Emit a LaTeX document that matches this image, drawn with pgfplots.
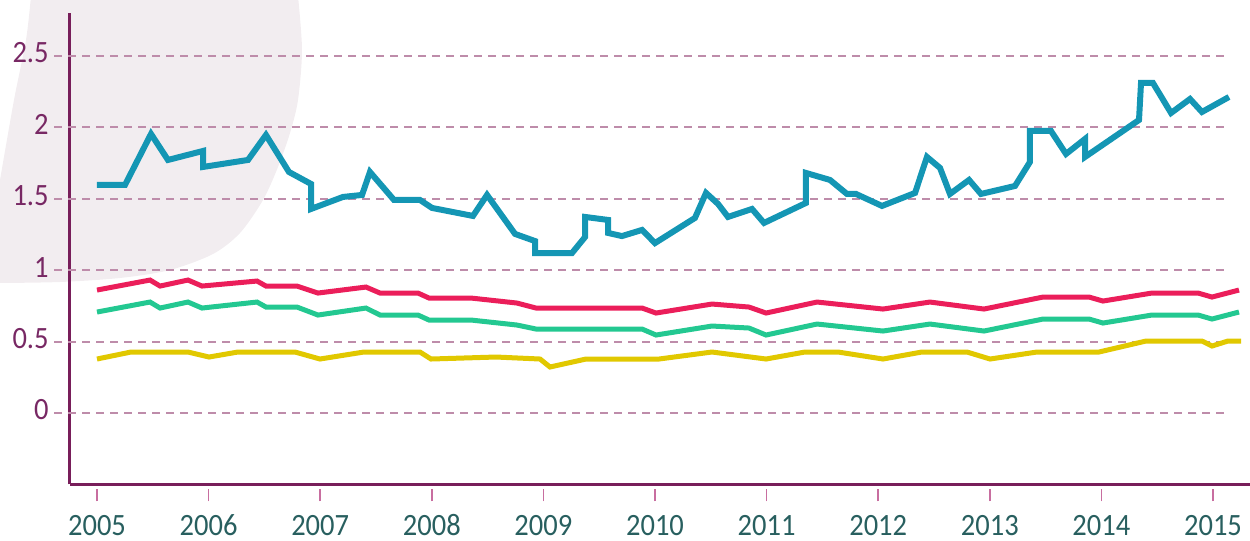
\documentclass[border=0pt]{standalone}
\usepackage{fontspec}
\setmainfont[FakeStretch=0.92]{Carlito}
\usepackage{pgfplots}
\pgfplotsset{compat=1.18}
\definecolor{blueL}{HTML}{1496B4}
\definecolor{redL}{HTML}{EB1E5A}
\definecolor{greenL}{HTML}{23C891}
\definecolor{yellowL}{HTML}{E1C800}
\definecolor{gridc}{HTML}{BE8CAA}
\definecolor{axisc}{HTML}{781E5A}
\definecolor{ylab}{HTML}{782864}
\definecolor{xlab}{HTML}{285F5F}
\definecolor{tickc}{HTML}{C86EA0}
\definecolor{wm}{HTML}{F2EDF0}
\begin{document}
\begin{tikzpicture}
% decorative watermark (pixel coordinates of the reference)
\begin{scope}[xshift=-35pt, yshift=242.2pt, x=0.5pt, y=-0.5pt]
\fill[wm] plot[smooth] coordinates {(298,-4) (302,50) (298,100) (290,133) (278,167) (263,200) (240,233) (213,254) (170,270) (120,278) (60,282) (0,283)}
  -- plot[smooth] coordinates {(0,180) (14,100) (26,40) (31,-4)} -- cycle;
\end{scope}
\begin{axis}[
  at={(0,0)}, anchor=south west,
  scale only axis,
  width=590pt, height=235.62pt,
  xmin=2004.7581, xmax=2015.3315,
  ymin=-0.5, ymax=2.8,
  clip=false,
  axis x line=bottom, axis y line=left,
  axis line style={draw=axisc, line width=1.5pt, -},
  xtick={2005,2006,2007,2008,2009,2010,2011,2012,2013,2014,2015},
  xticklabels={2005,2006,2007,2008,2009,2010,2011,2012,2013,2014,2015},
  ytick={0,0.5,1,1.5,2,2.5},
  yticklabels={0,0.5,1,1.5,2,2.5},
  tick align=outside,
  major tick length=6pt,
  xtick style={draw=tickc, line width=0.8pt, yshift=-2.5pt},
  ytick style={draw=none},
  xticklabel style={text=xlab, font=\fontsize{15.5pt}{16pt}\selectfont, anchor=base, inner sep=0pt, yshift=-19.5pt},
  yticklabel style={text=ylab, font=\fontsize{15.5pt}{16pt}\selectfont, anchor=east, inner sep=0pt, xshift=-4.5pt, yshift=1.5pt},
  every axis plot/.append style={line join=miter, miter limit=4, no markers},
]
% dashed grid lines
\draw[gridc, line width=1pt, dash pattern=on 4pt off 3pt] (axis cs:2004.615,0) -- (axis cs:2015.125,0);
\draw[gridc, line width=1pt, dash pattern=on 4pt off 3pt] (axis cs:2004.615,0.5) -- (axis cs:2015.125,0.5);
\draw[gridc, line width=1pt, dash pattern=on 4pt off 3pt] (axis cs:2004.615,1) -- (axis cs:2015.125,1);
\draw[gridc, line width=1pt, dash pattern=on 4pt off 3pt] (axis cs:2004.615,1.5) -- (axis cs:2015.125,1.5);
\draw[gridc, line width=1pt, dash pattern=on 4pt off 3pt] (axis cs:2004.615,2) -- (axis cs:2015.125,2);
\draw[gridc, line width=1pt, dash pattern=on 4pt off 3pt] (axis cs:2004.615,2.5) -- (axis cs:2015.125,2.5);

% yellow
\addplot[yellowL, line width=2.5pt] coordinates {
(2005.000,0.378) (2005.305,0.427) (2005.815,0.427) (2006.004,0.392) (2006.263,0.427)
(2006.774,0.427) (2006.998,0.378) (2007.392,0.427) (2007.894,0.427) (2007.993,0.378)
(2008.575,0.392) (2008.970,0.378) (2009.059,0.322) (2009.382,0.378) (2010.036,0.378)
(2010.511,0.427) (2010.995,0.378) (2011.344,0.427) (2011.640,0.427) (2012.043,0.378)
(2012.392,0.427) (2012.796,0.427) (2013.002,0.378) (2013.423,0.427) (2013.978,0.427)
(2014.400,0.504) (2014.901,0.504) (2014.991,0.469) (2015.134,0.504) (2015.251,0.504)
};
% green
\addplot[greenL, line width=2.5pt] coordinates {
(2005.000,0.707) (2005.475,0.777) (2005.565,0.735) (2005.815,0.777) (2005.941,0.735)
(2006.434,0.777) (2006.514,0.742) (2006.792,0.742) (2006.980,0.686) (2007.410,0.735)
(2007.536,0.686) (2007.876,0.686) (2007.975,0.651) (2008.351,0.651) (2008.763,0.616)
(2008.934,0.588) (2009.884,0.588) (2010.009,0.546) (2010.511,0.609) (2010.842,0.595)
(2010.995,0.546) (2011.452,0.623) (2012.043,0.574) (2012.464,0.623) (2012.948,0.574)
(2013.477,0.658) (2013.889,0.658) (2014.014,0.630) (2014.453,0.686) (2014.866,0.686)
(2014.991,0.658) (2015.233,0.707)
};
% red
\addplot[redL, line width=2.5pt] coordinates {
(2005.000,0.861) (2005.475,0.931) (2005.565,0.889) (2005.815,0.931) (2005.941,0.889)
(2006.434,0.924) (2006.514,0.889) (2006.792,0.889) (2006.980,0.840) (2007.410,0.882)
(2007.536,0.840) (2007.876,0.840) (2007.975,0.805) (2008.351,0.805) (2008.763,0.770)
(2008.934,0.735) (2009.884,0.735) (2010.009,0.700) (2010.511,0.763) (2010.842,0.742)
(2010.995,0.700) (2011.452,0.777) (2012.043,0.728) (2012.464,0.777) (2012.948,0.728)
(2013.477,0.812) (2013.889,0.812) (2014.014,0.784) (2014.453,0.840) (2014.866,0.840)
(2014.991,0.812) (2015.233,0.861)
};
% blue
\addplot[blueL, line width=3pt] coordinates {
(2005.000,1.597) (2005.251,1.597) (2005.484,1.954) (2005.636,1.772) (2005.950,1.835)
(2005.950,1.723) (2006.353,1.772) (2006.514,1.947) (2006.720,1.688) (2006.918,1.604)
(2006.918,1.429) (2007.204,1.513) (2007.375,1.527) (2007.446,1.688) (2007.661,1.492)
(2007.894,1.492) (2008.002,1.436) (2008.369,1.380) (2008.495,1.527) (2008.746,1.254)
(2008.925,1.204) (2008.925,1.120) (2009.256,1.120) (2009.373,1.232) (2009.373,1.373)
(2009.579,1.352) (2009.579,1.261) (2009.704,1.239) (2009.884,1.282) (2010.000,1.190)
(2010.358,1.366) (2010.457,1.541) (2010.565,1.464) (2010.654,1.373) (2010.869,1.429)
(2010.977,1.331) (2011.353,1.471) (2011.353,1.681) (2011.568,1.632) (2011.720,1.534)
(2011.801,1.534) (2012.034,1.450) (2012.330,1.541) (2012.437,1.793) (2012.554,1.716)
(2012.643,1.534) (2012.814,1.632) (2012.921,1.534) (2013.226,1.590) (2013.360,1.758)
(2013.360,1.975) (2013.548,1.975) (2013.683,1.814) (2013.853,1.919) (2013.853,1.793)
(2014.337,2.052) (2014.355,2.311) (2014.462,2.311) (2014.624,2.101) (2014.794,2.199)
(2014.901,2.108) (2015.143,2.213)
};
\end{axis}
\pgfresetboundingbox
\useasboundingbox (-35pt,-28.3pt) rectangle (590pt,242.2pt);
\end{tikzpicture}
\end{document}
